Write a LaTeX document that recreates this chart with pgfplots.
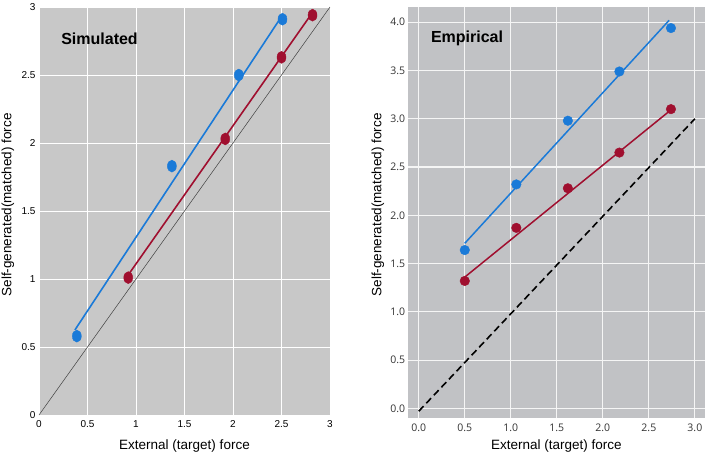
\documentclass[border=0pt]{standalone}
\usepackage{pgfplots}
\pgfplotsset{compat=1.18}
\usepackage{fontspec}
\setmainfont{Liberation Sans}
\newfontfamily\osans{Open Sans}
\definecolor{bgL}{HTML}{C8C8C8}
\definecolor{bgR}{HTML}{C1C2C5}
\definecolor{cblue}{HTML}{1A7AD8}
\definecolor{cred}{HTML}{A00F2F}
\begin{document}
\begin{tikzpicture}
\useasboundingbox (0pt,0pt) rectangle (708pt,456pt);
% Left panel
\begin{axis}[at={(39pt,41pt)}, anchor=south west, scale only axis,
  width=291pt, height=408pt,
  xmin=0, xmax=3, ymin=0, ymax=3,
  xtick={0,0.5,1,1.5,2,2.5,3}, ytick={0,0.5,1,1.5,2,2.5,3},
  grid=major, grid style={white, line width=0.9pt},
  axis background/.style={fill=bgL},
  axis line style={draw=none}, major tick length=0pt,
  /pgf/number format/assume math mode=true,
  tick label style={font=\fontsize{10}{12}\selectfont},
  xticklabel style={yshift=-2pt},
  label style={font=\fontsize{13.5}{16}\selectfont},
  xlabel={External (target) force},
  ylabel={Self-generated(matched) force},
  xlabel style={at={(axis description cs:0.5,-0.076)}, anchor=center},
  ylabel style={at={(axis description cs:-0.107,0.515)}, anchor=center},
  clip=false]
\addplot[black!75, line width=0.5pt] coordinates {(0,0) (3,3)};
\addplot[cblue, line width=1.6pt] coordinates {(0.37,0.625) (2.5,2.93)};
\addplot[cred, line width=1.6pt] coordinates {(0.92,1.03) (2.82,2.96)};
\addplot[only marks, mark=*, mark size=6pt, mark options={xscale=0.75, fill=cblue, draw=cblue}] coordinates {(0.39,0.58) (1.37,1.83) (2.06,2.50) (2.51,2.91)};
\addplot[only marks, mark=*, mark size=6pt, mark options={xscale=0.75, fill=cred, draw=cred}] coordinates {(0.92,1.01) (1.92,2.03) (2.50,2.63) (2.82,2.94)};
\node[font=\fontsize{16}{19}\selectfont\bfseries] at (axis cs:0.624,2.765) {Simulated};
\end{axis}
% Right panel
\begin{axis}[at={(407.7pt,38pt)}, anchor=south west, scale only axis,
  width=297.3pt, height=410.7pt,
  xmin=-0.12, xmax=3.11, ymin=-0.1, ymax=4.155,
  xtick={0,0.5,1,1.5,2,2.5,3}, ytick={0,0.5,1,1.5,2,2.5,3,3.5,4},
  grid=major, grid style={white!92!gray, line width=1.1pt},
  axis background/.style={fill=bgR},
  axis line style={draw=none}, major tick length=0pt,
  /pgf/number format/assume math mode=true,
  /pgf/number format/.cd, fixed, fixed zerofill, precision=1, /pgfplots/.cd,
  tick label style={font=\osans\fontsize{10.5}{12}\selectfont, text=black!80},
  xticklabel style={yshift=-2pt},
  yticklabel style={xshift=1pt},
  label style={font=\fontsize{13.5}{16}\selectfont},
  xlabel={External (target) force},
  ylabel={Self-generated(matched) force},
  xlabel style={at={(axis description cs:0.5,-0.067)}, anchor=center},
  ylabel style={at={(axis description cs:-0.1,0.519)}, anchor=center},
  clip=false]
\addplot[black, line width=1.6pt, dash pattern=on 7pt off 4pt] coordinates {(0,-0.03) (3,3)};
\addplot[cblue, line width=1.5pt] coordinates {(0.5,1.71) (2.72,4.02)};
\addplot[cred, line width=1.5pt] coordinates {(0.5,1.36) (2.75,3.10)};
\addplot[only marks, mark=*, mark size=4.8pt, mark options={fill=cblue, draw=cblue}] coordinates {(0.5,1.64) (1.06,2.32) (1.62,2.98) (2.18,3.49) (2.74,3.94)};
\addplot[only marks, mark=*, mark size=4.8pt, mark options={fill=cred, draw=cred}] coordinates {(0.5,1.32) (1.06,1.87) (1.62,2.28) (2.18,2.65) (2.74,3.10)};
\node[font=\fontsize{16}{19}\selectfont\bfseries] at (axis cs:0.525,3.83) {Empirical};
\end{axis}
\end{tikzpicture}
\end{document}
